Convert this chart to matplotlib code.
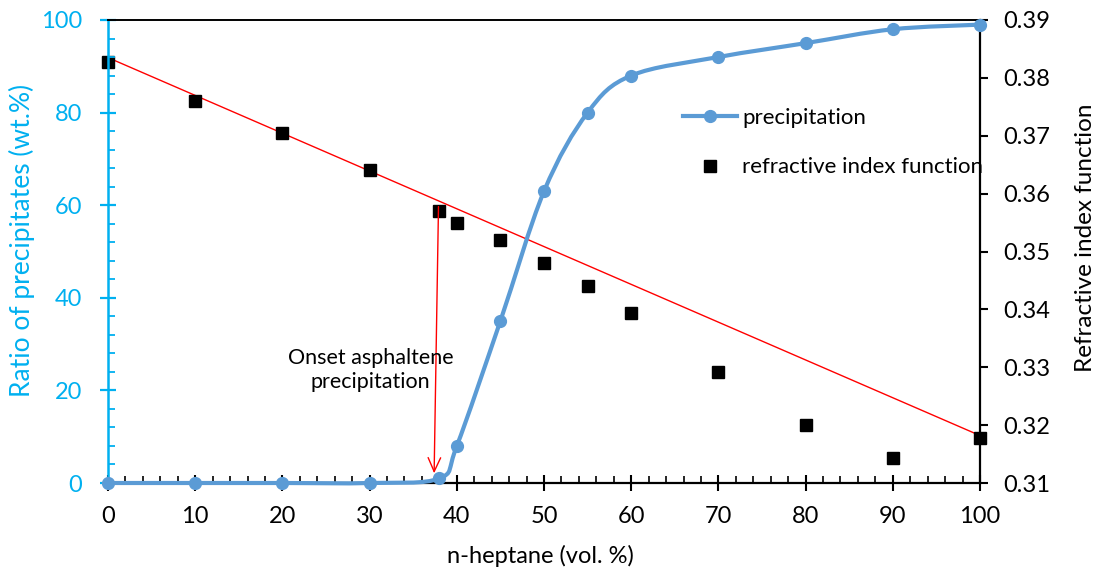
import matplotlib
matplotlib.use("Agg")
import matplotlib.pyplot as plt
from matplotlib.path import Path
from matplotlib.patches import PathPatch
from matplotlib.lines import Line2D
from matplotlib.ticker import MultipleLocator
import numpy as np

plt.rcParams['font.family'] = ['Lato', 'DejaVu Sans']

# ---- data ----
heptane_precip = [0, 10, 20, 30, 38, 40, 45, 50, 55, 60, 70, 80, 90, 100]
precipitation = [0, 0, 0, 0, 1.0, 8.0, 35.0, 63.0, 80.0, 88.0, 92.0, 95.0, 98.0, 99.0]

heptane_ri = [0, 10, 20, 30, 38, 40, 45, 50, 55, 60, 70, 80, 90, 100]
refractive = [0.3827, 0.3760, 0.3704, 0.3640, 0.3570, 0.3550, 0.3520, 0.3480,
              0.3441, 0.3393, 0.3291, 0.3200, 0.3143, 0.3178]

trend_x = [0, 100]
trend_y = [0.3835, 0.3182]

onset_arrow_start = (37.9, 59.7)
onset_arrow_end = (37.4, 2.1)
onset_text_pos = (30.1, 24.4)

x_ticks = list(range(0, 101, 10))
left_ticks = list(range(0, 101, 20))
right_ticks = [0.31, 0.32, 0.33, 0.34, 0.35, 0.36, 0.37, 0.38, 0.39]

CYAN = '#00B0F0'
BLUE = '#5B9BD5'
RED = '#FF0000'

fig = plt.figure(figsize=(10.99, 5.77), dpi=100)
ax = fig.add_axes([108/1099, 1-483/577, 872/1099, 463/577])
ax2 = ax.twinx()

# refractive index (right axis)
ax2.plot(trend_x, trend_y, color=RED, lw=1.0, zorder=2)
ax2.plot(heptane_ri, refractive, 's', color='black', markersize=8.5, zorder=3, clip_on=False)
ax2.set_ylim(0.31, 0.39)
ax2.set_yticks(right_ticks)
ax2.set_yticklabels([f"{v:.2f}" for v in right_ticks])

# precipitation (left axis), smooth bezier line
P = np.column_stack([heptane_precip, precipitation]).astype(float)
n = len(P)
verts = [tuple(P[0])]
codes = [Path.MOVETO]
for i in range(n - 1):
    p0 = P[i - 1] if i > 0 else P[i]
    p1 = P[i]
    p2 = P[i + 1]
    p3 = P[i + 2] if i + 2 < n else P[i + 1]
    c1 = p1 + (p2 - p0) / 6.0
    c2 = p2 - (p3 - p1) / 6.0
    verts += [tuple(c1), tuple(c2), tuple(p2)]
    codes += [Path.CURVE4] * 3
ax.add_patch(PathPatch(Path(verts, codes), fill=False, edgecolor=BLUE, lw=3.0,
                       capstyle='round', joinstyle='round', zorder=3, clip_on=False))
ax.plot(heptane_precip, precipitation, 'o', color=BLUE, markersize=8.5, zorder=4, clip_on=False)

ax.set_zorder(ax2.get_zorder() + 1)
ax.patch.set_visible(False)

ax.set_xlim(0, 100)
ax.set_ylim(0, 100)
ax.set_xticks(x_ticks)
ax.set_yticks(left_ticks)
ax.xaxis.set_minor_locator(MultipleLocator(2))
ax.yaxis.set_minor_locator(MultipleLocator(4))

# spines
ax.spines['right'].set_visible(False)
ax.spines['left'].set_color(CYAN)
ax.spines['left'].set_linewidth(1.8)
ax.spines['bottom'].set_linewidth(1.6)
ax.spines['top'].set_linewidth(1.4)
ax2.spines['left'].set_visible(False)
ax2.spines['top'].set_visible(False)
ax2.spines['bottom'].set_visible(False)
ax2.spines['right'].set_linewidth(1.6)

ax.tick_params(axis='x', which='major', direction='inout', length=12, width=1.5,
               pad=10.5, labelsize=17, colors='black')
ax.tick_params(axis='x', which='minor', direction='in', length=5, width=1.2)
ax.tick_params(axis='y', which='major', direction='inout', length=12, width=1.6,
               pad=12.6, labelsize=17, colors=CYAN)
ax.tick_params(axis='y', which='minor', direction='in', length=5, width=1.3, colors=CYAN)
ax2.tick_params(axis='y', which='major', direction='out', length=5.8, width=1.5,
                pad=10.8, labelsize=17, colors='black')

# annotation
ax.annotate('', xy=onset_arrow_end, xytext=onset_arrow_start,
            arrowprops=dict(arrowstyle='->,head_length=1.0,head_width=0.45',
                            color=RED, lw=1.0, shrinkA=0, shrinkB=0), zorder=5)
ax.text(onset_text_pos[0], onset_text_pos[1], 'Onset asphaltene\nprecipitation',
        ha='center', va='center', fontsize=15.5, linespacing=1.3, zorder=5)

# legend
handles = [Line2D([], [], color=BLUE, lw=3.0, marker='o', markersize=8.5),
           Line2D([], [], color='black', lw=0, marker='s', markersize=8.5)]
leg = fig.legend(handles, ['precipitation', 'refractive index function'],
                 loc='upper left', bbox_to_anchor=(683/1099, 1-108/577),
                 frameon=False, fontsize=16, handlelength=2.45, handletextpad=0.22,
                 labelspacing=1.32, borderpad=0, borderaxespad=0)

# axis labels
fig.text(540/1099, 1-556/577, 'n-heptane (vol. %)', ha='center', va='center', fontsize=17)
fig.text(22/1099, 1-240/577, 'Ratio of precipitates (wt.%)', ha='center', va='center',
         rotation=90, fontsize=19, color=CYAN)
fig.text(1085/1099, 1-238/577, 'Refractive index function', ha='center', va='center',
         rotation=90, fontsize=17.5)

fig.savefig('out.png', dpi=100)
